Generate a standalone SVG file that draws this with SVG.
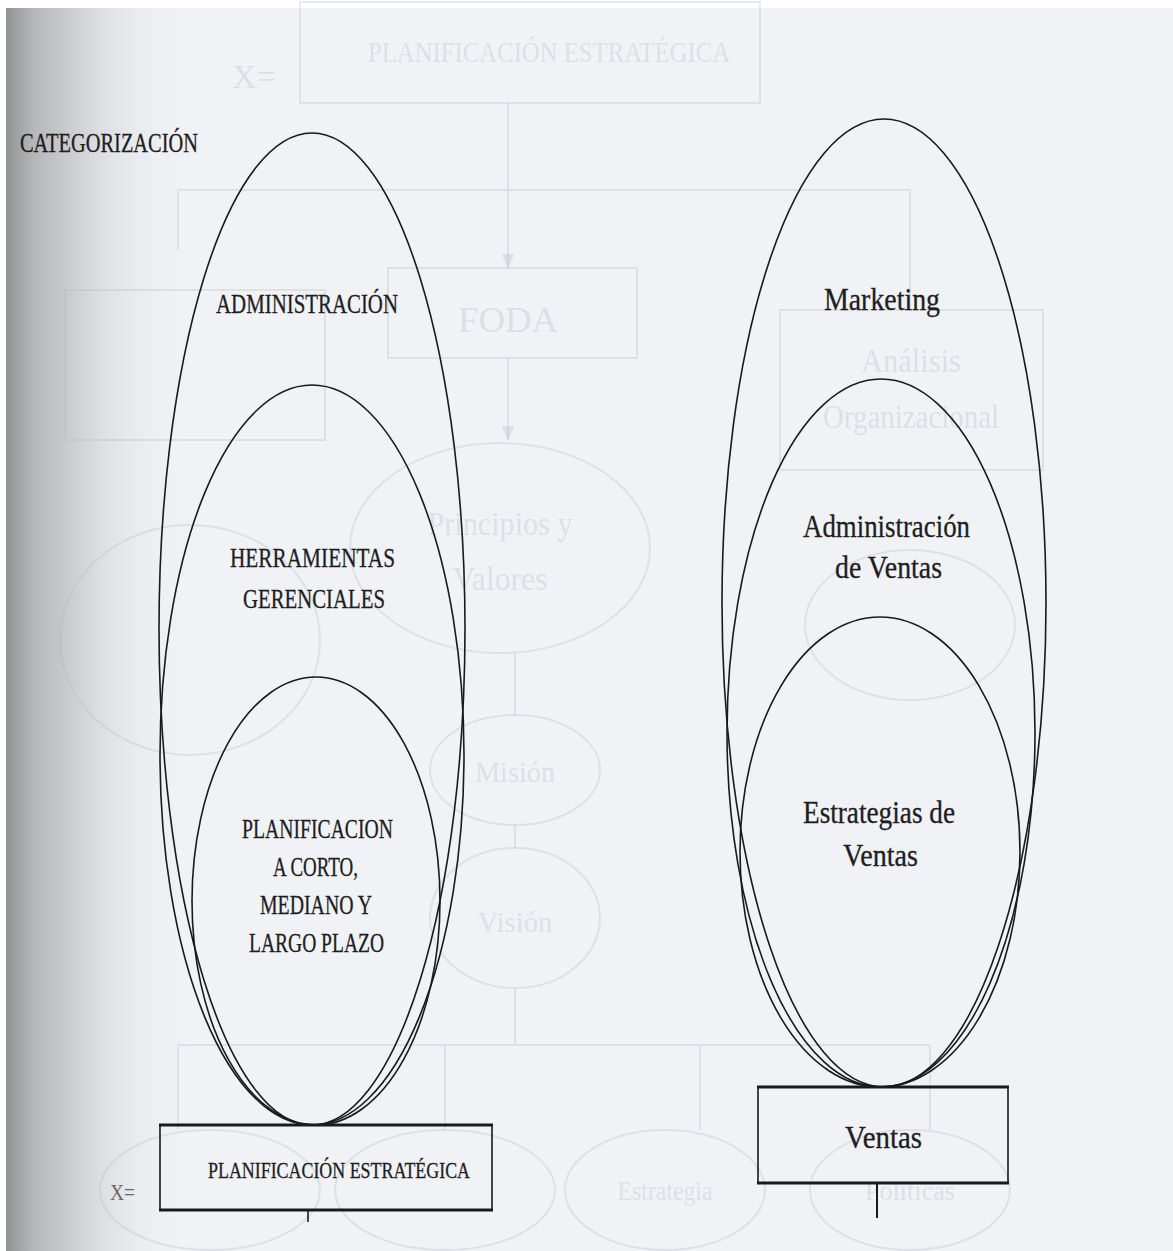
<svg xmlns="http://www.w3.org/2000/svg" width="1173" height="1251" viewBox="0 0 1173 1251">
<defs>
<linearGradient id="shade" x1="0" y1="0" x2="1" y2="0">
<stop offset="0" stop-color="#8e9092"/>
<stop offset="0.15" stop-color="#b5b7b9"/>
<stop offset="0.5" stop-color="#dcdee1"/>
<stop offset="1" stop-color="#f0f2f5" stop-opacity="0"/>
</linearGradient>
<marker id="garrow" viewBox="0 0 10 10" refX="9" refY="5" markerWidth="8" markerHeight="8" orient="auto">
<path d="M0,1 L10,5 L0,9 z" fill="#b3b8bf" fill-opacity="0.3"/>
</marker>
</defs>
<style>
.ell{fill:none;stroke:#1a1a1a;stroke-width:1.6}
.box{fill:none;stroke:#1a1a1a;stroke-width:1.6}
.edge{stroke:#1a1a1a;stroke-width:3}
.t{font-family:'Liberation Serif','DejaVu Serif',serif;fill:#1e1e1e;stroke:#1e1e1e;stroke-width:0.3}
.g{fill:none;stroke:#b3b8bf;stroke-opacity:0.3;stroke-width:2}
.gt{font-family:'Liberation Serif','DejaVu Serif',serif;fill:#b3b8bf;fill-opacity:0.32}
.gl{stroke:#b3b8bf;stroke-opacity:0.3;stroke-width:2;fill:none}
</style>
<rect x="0" y="0" width="1173" height="1251" fill="#f0f2f5"/>
<rect x="5" y="0" width="190" height="1251" fill="url(#shade)"/>
<rect x="0" y="0" width="6" height="1251" fill="#ffffff"/>
<rect x="0" y="0" width="1173" height="8" fill="#ffffff"/>

<g id="ghost">
<rect class="g" x="300" y="2" width="460" height="101"/>
<text class="gt" x="368" y="62" font-size="30" textLength="362" lengthAdjust="spacingAndGlyphs">PLANIFICACIÓN ESTRATÉGICA</text>
<text class="gt" x="232" y="88" font-size="34">X=</text>
<path class="gl" d="M508,103 V190 M178,190 H910 M178,190 V250 M910,190 V310"/>
<path class="gl" d="M508,190 V268" marker-end="url(#garrow)"/>
<rect class="g" x="388" y="268" width="249" height="90"/>
<text class="gt" x="508" y="332" font-size="36" text-anchor="middle" textLength="100" lengthAdjust="spacingAndGlyphs">FODA</text>
<rect class="g" x="65" y="290" width="260" height="150"/>
<rect class="g" x="780" y="310" width="263" height="160"/>
<text class="gt" x="911" y="372" font-size="34" text-anchor="middle" textLength="100" lengthAdjust="spacingAndGlyphs">Análisis</text>
<text class="gt" x="911" y="428" font-size="34" text-anchor="middle" textLength="176" lengthAdjust="spacingAndGlyphs">Organizacional</text>
<path class="gl" d="M508,358 V440" marker-end="url(#garrow)"/>
<ellipse class="g" cx="500" cy="548" rx="150" ry="105"/>
<text class="gt" x="500" y="535" font-size="34" text-anchor="middle" textLength="145" lengthAdjust="spacingAndGlyphs">Principios y</text>
<text class="gt" x="500" y="590" font-size="34" text-anchor="middle" textLength="95" lengthAdjust="spacingAndGlyphs">Valores</text>
<ellipse class="g" cx="190" cy="640" rx="130" ry="115"/>
<ellipse class="g" cx="910" cy="625" rx="105" ry="75"/>
<path class="gl" d="M515,653 V715"/>
<ellipse class="g" cx="515" cy="770" rx="85" ry="55"/>
<text class="gt" x="515" y="782" font-size="30" text-anchor="middle" textLength="80" lengthAdjust="spacingAndGlyphs">Misión</text>
<path class="gl" d="M515,825 V848"/>
<ellipse class="g" cx="515" cy="918" rx="85" ry="70"/>
<text class="gt" x="515" y="932" font-size="30" text-anchor="middle" textLength="75" lengthAdjust="spacingAndGlyphs">Visión</text>
<path class="gl" d="M515,988 V1045 M178,1045 H930 M178,1045 V1130 M445,1045 V1130 M700,1045 V1130 M930,1045 V1130"/>
<ellipse class="g" cx="210" cy="1190" rx="110" ry="60"/>
<ellipse class="g" cx="445" cy="1190" rx="110" ry="60"/>
<ellipse class="g" cx="665" cy="1190" rx="100" ry="60"/>
<text class="gt" x="665" y="1200" font-size="28" text-anchor="middle" textLength="95" lengthAdjust="spacingAndGlyphs">Estrategia</text>
<ellipse class="g" cx="910" cy="1190" rx="100" ry="60"/>
<text class="gt" x="910" y="1200" font-size="28" text-anchor="middle" textLength="90" lengthAdjust="spacingAndGlyphs">Políticas</text>
</g>

<text class="t" x="20" y="152" font-size="27" textLength="178" lengthAdjust="spacingAndGlyphs">CATEGORIZACIÓN</text>

<g id="n-administracion">
<ellipse class="ell" cx="312" cy="629" rx="153" ry="496"/>
<text class="t" x="216" y="313" font-size="28" textLength="182" lengthAdjust="spacingAndGlyphs">ADMINISTRACIÓN</text>
</g>
<g id="n-herramientas">
<ellipse class="ell" cx="312" cy="755" rx="152" ry="370"/>
<text class="t" x="230" y="567" font-size="28" textLength="165" lengthAdjust="spacingAndGlyphs">HERRAMIENTAS</text>
<text class="t" x="243" y="608" font-size="28" textLength="142" lengthAdjust="spacingAndGlyphs">GERENCIALES</text>
</g>
<g id="n-planificacion">
<ellipse class="ell" cx="316" cy="901" rx="124" ry="224"/>
<text class="t" x="242" y="838" font-size="28" textLength="151" lengthAdjust="spacingAndGlyphs">PLANIFICACION</text>
<text class="t" x="273" y="876" font-size="28" textLength="85" lengthAdjust="spacingAndGlyphs">A CORTO,</text>
<text class="t" x="260" y="914" font-size="28" textLength="112" lengthAdjust="spacingAndGlyphs">MEDIANO Y</text>
<text class="t" x="249" y="952" font-size="28" textLength="135" lengthAdjust="spacingAndGlyphs">LARGO PLAZO</text>
</g>
<g id="n-plan-estrategica">
<rect class="box" x="160" y="1125" width="332" height="85"/>
<line class="edge" x1="159" y1="1125" x2="493" y2="1125"/>
<line class="edge" x1="159" y1="1210" x2="493" y2="1210"/>
<text class="t" x="208" y="1178" font-size="23" textLength="262" lengthAdjust="spacingAndGlyphs">PLANIFICACIÓN ESTRATÉGICA</text>
</g>
<text class="t" x="110" y="1200" font-size="24" textLength="25" lengthAdjust="spacingAndGlyphs" style="fill:#6a6a6a;stroke:none">X=</text>

<g id="n-marketing">
<ellipse class="ell" cx="884" cy="603" rx="162" ry="484"/>
<text class="t" x="824" y="310" font-size="31" textLength="116" lengthAdjust="spacingAndGlyphs">Marketing</text>
</g>
<g id="n-admin-ventas">
<ellipse class="ell" cx="881" cy="733" rx="154" ry="354"/>
<text class="t" x="803" y="537" font-size="31" textLength="167" lengthAdjust="spacingAndGlyphs">Administración</text>
<text class="t" x="835" y="578" font-size="31" textLength="107" lengthAdjust="spacingAndGlyphs">de Ventas</text>
</g>
<g id="n-estrategias">
<ellipse class="ell" cx="880" cy="852" rx="140" ry="235"/>
<text class="t" x="803" y="823" font-size="31" textLength="152" lengthAdjust="spacingAndGlyphs">Estrategias de</text>
<text class="t" x="843" y="866" font-size="31" textLength="75" lengthAdjust="spacingAndGlyphs">Ventas</text>
</g>
<g id="n-ventas">
<rect class="box" x="758" y="1087" width="250" height="96"/>
<line class="edge" x1="757" y1="1087" x2="1009" y2="1087"/>
<line class="edge" x1="757" y1="1183" x2="1009" y2="1183"/>
<text class="t" x="845" y="1148" font-size="31" textLength="77" lengthAdjust="spacingAndGlyphs">Ventas</text>
</g>

<g id="connectors">
<line x1="308" y1="1210" x2="308" y2="1222" stroke="#1a1a1a" stroke-width="1.6"/>
<line x1="877" y1="1183" x2="877" y2="1218" stroke="#1a1a1a" stroke-width="2"/>
</g>
</svg>
